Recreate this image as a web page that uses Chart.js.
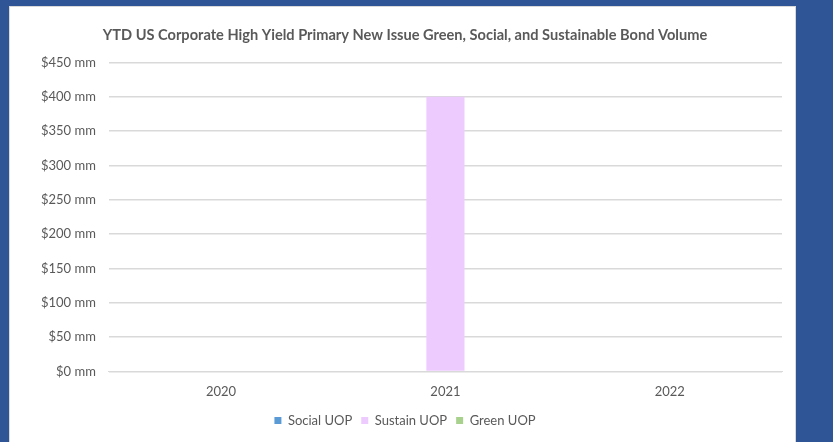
<!DOCTYPE html>
<html>
<head>
<meta charset="utf-8">
<script src="https://cdn.jsdelivr.net/npm/chart.js@4/dist/chart.umd.min.js"></script>
<style>
  html, body { margin: 0; padding: 0; }
  body { width: 833px; height: 442px; background: #2F5597; position: relative; overflow: hidden; }
  #panel { position: absolute; left: 9px; top: 6px; width: 785px; height: 440px; background: #fff; border-left: 1px solid #d9d9d9; border-right: 1px solid #d9d9d9; border-top: 1px solid #d9d9d9; }
  #chart { display: block; }
</style>
</head>
<body>
<div id="panel"><canvas id="chart" width="785" height="440"></canvas></div>
<script>
// Data
const years = ['2020', '2021', '2022'];
const socialUOP = [0, 0, 0];
const sustainUOP = [0, 400, 0];
const greenUOP = [0, 0, 0];

const FONT = 'Lato, "Open Sans", sans-serif';

const ctx = document.getElementById('chart').getContext('2d');
new Chart(ctx, {
    type: 'bar',
    data: {
        labels: years,
        datasets: [
            { label: 'Social UOP', data: socialUOP, backgroundColor: '#5B9BD5' },
            { label: 'Sustain UOP', data: sustainUOP, backgroundColor: '#EECBFF' },
            { label: 'Green UOP', data: greenUOP, backgroundColor: '#A9D18E' }
        ]
    },
    options: {
        responsive: false,
        animation: false,
        layout: { padding: { left: 18, right: 13, top: 6, bottom: 10 } },
        datasets: { bar: { categoryPercentage: 0.51, barPercentage: 1 } },
        plugins: {
            title: {
                display: true,
                text: 'YTD US Corporate High Yield Primary New Issue Green, Social, and Sustainable Bond Volume',
                color: '#595959',
                font: { family: FONT, size: 14.6, weight: 'bold' },
                padding: { top: 14, bottom: 18 }
            },
            legend: {
                position: 'bottom',
                labels: {
                    color: '#595959',
                    font: { family: FONT, size: 13 },
                    boxWidth: 7,
                    boxHeight: 7,
                    padding: 9
                }
            },
            tooltip: { enabled: false }
        },
        scales: {
            x: {
                grid: { display: false },
                border: { color: '#d9d9d9' },
                ticks: { color: '#595959', font: { family: FONT, size: 13 }, padding: 5 }
            },
            y: {
                min: 0,
                max: 450,
                border: { display: false },
                grid: { color: '#d9d9d9', lineWidth: 1.5, drawTicks: false },
                ticks: {
                    stepSize: 50,
                    color: '#595959',
                    padding: 13,
                    font: { family: FONT, size: 13 },
                    callback: v => '$' + v + ' mm'
                }
            }
        }
    }
});
</script>
</body>
</html>
